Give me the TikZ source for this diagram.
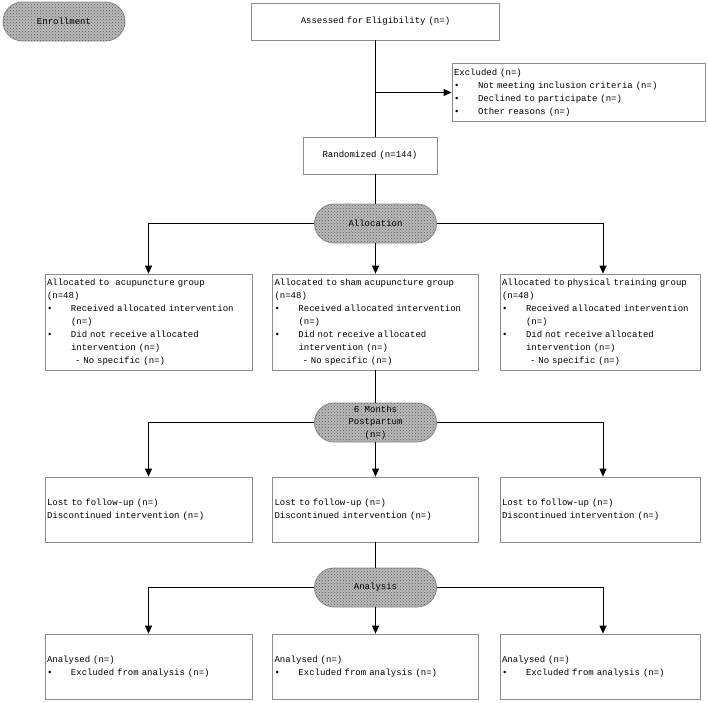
\documentclass[tikz,border=0pt]{standalone}
\usepackage{fontspec}
\setmainfont{Liberation Mono}
\usetikzlibrary{arrows.meta,shapes.misc,patterns}
\definecolor{boxgray}{RGB}{140,140,140}
\definecolor{pillgray}{RGB}{185,185,185}
\definecolor{pilldark}{RGB}{95,95,95}
\newcommand{\bl}{\makebox[24pt][l]{•}}
\newcommand{\ind}{\hspace*{24pt}}
\newcommand{\indd}{\hspace*{28pt}}
\begin{document}
\begin{tikzpicture}[x=1pt,y=-1pt,
  txt/.style={font=\fontsize{9}{13}\selectfont},
  boxs/.style={draw=boxgray, line width=0.8pt, rectangle, inner xsep=2pt, inner ysep=0pt, align=left, txt},
  pill/.style={draw=boxgray, line width=0.8pt, rounded rectangle, fill=pillgray, minimum width=122pt, minimum height=39pt, inner sep=0pt, align=center, txt, postaction={pattern=crosshatch dots, pattern color=pilldark}},
  conn/.style={line width=0.8pt, black},
  arr/.style={conn, -{Triangle[length=8pt,width=7pt]}}]
\useasboundingbox (0,0) rectangle (708,702);

% Enrollment
\node[pill] (enr) at (64,21.5) {Enrollment};
\node[boxs, text width=244pt, minimum height=37pt, align=center] (ass) at (375.5,21.5) {Assessed for Eligibility (n=)};
\node[boxs, text width=249pt, minimum height=58pt] (exc) at (578.5,92.5) {Excluded (n=)\\
\bl Not meeting inclusion criteria (n=)\\
\bl Declined to participate (n=)\\
\bl Other reasons (n=)};
\node[boxs, text width=130pt, minimum height=37pt, align=center] (rand) at (370,155.5) {Randomized (n=144)};

% Allocation
\node[pill] (alloc) at (375.5,223.5) {Allocation};
\node[boxs, text width=203pt, minimum height=96pt] (a1) at (148.5,322) {Allocated to~ acupuncture group\\
(n=48)\\
\bl Received allocated intervention\\
\ind (n=)\\
\bl Did not receive allocated\\
\ind intervention (n=)\\
\indd - No specific (n=)};
\node[boxs, text width=202pt, minimum height=96pt] (a2) at (375.5,322) {Allocated to sham acupuncture group\\
(n=48)\\
\bl Received allocated intervention\\
\ind (n=)\\
\bl Did not receive allocated\\
\ind intervention (n=)\\
\indd - No specific (n=)};
\node[boxs, text width=196pt, minimum height=96pt] (a3) at (600,322) {Allocated to physical training group\\
(n=48)\\
\bl Received allocated intervention\\
\ind (n=)\\
\bl Did not receive allocated\\
\ind intervention (n=)\\
\indd - No specific (n=)};

% Follow-up
\node[pill, font=\fontsize{9}{12.5}\selectfont] (six) at (375.5,422.5) {6 Months\\Postpartum\\(n=)};
\node[boxs, text width=203pt, minimum height=65pt] (f1) at (148.5,509.5) {Lost to follow-up (n=)\\Discontinued intervention (n=)};
\node[boxs, text width=202pt, minimum height=65pt] (f2) at (375.5,509.5) {Lost to follow-up (n=)\\Discontinued intervention (n=)};
\node[boxs, text width=196pt, minimum height=65pt] (f3) at (600,509.5) {Lost to follow-up (n=)\\Discontinued intervention (n=)};

% Analysis
\node[pill] (ana) at (375.5,587.5) {Analysis};
\node[boxs, text width=203pt, minimum height=65pt] (n1) at (148.5,666.5) {Analysed (n=)\\\bl Excluded from analysis (n=)};
\node[boxs, text width=202pt, minimum height=65pt] (n2) at (375.5,666.5) {Analysed (n=)\\\bl Excluded from analysis (n=)};
\node[boxs, text width=196pt, minimum height=65pt] (n3) at (600,666.5) {Analysed (n=)\\\bl Excluded from analysis (n=)};

% connectors
\coordinate (ej) at (ass.south |- exc.west);
\draw[conn] (ass.south) -- (ass.south |- rand.north);
\draw[arr] (ej) -- (exc.west);
\draw[conn] (rand.south -| alloc.north) -- (alloc.north);
\draw[arr] (alloc.west) -| (a1.north);
\draw[arr] (alloc.south) -- (a2.north);
\draw[arr] (alloc.east) -| ([xshift=3pt]a3.north);

\draw[conn] (a2.south) -- (six.north);
\draw[arr] (six.west) -| (f1.north);
\draw[arr] (six.south) -- (f2.north);
\draw[arr] (six.east) -| ([xshift=3pt]f3.north);

\draw[conn] (f2.south) -- (ana.north);
\draw[arr] (ana.west) -| (n1.north);
\draw[arr] (ana.south) -- (n2.north);
\draw[arr] (ana.east) -| ([xshift=3pt]n3.north);
\end{tikzpicture}
\end{document}
